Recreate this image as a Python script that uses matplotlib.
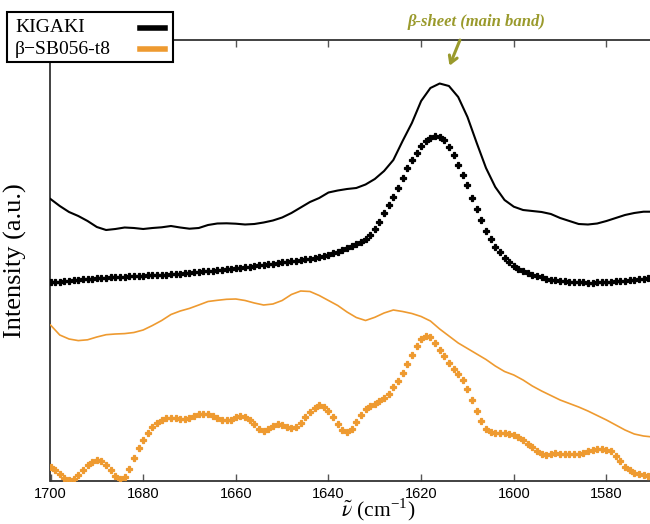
import numpy as np
import matplotlib
matplotlib.use("Agg")
import matplotlib.pyplot as plt
from matplotlib.lines import Line2D
from matplotlib.patches import Rectangle

plt.rcParams['mathtext.fontset'] = 'stix'

# ---------------- data (intensity, a.u.) ----------------
# solid lines, sampled every 2 cm-1
wn_line = [1700, 1698, 1696, 1694, 1692, 1690, 1688, 1686, 1684, 1682, 1680, 1678, 1676, 1674,
           1672, 1670, 1668, 1666, 1664, 1662, 1660, 1658, 1656, 1654, 1652, 1650, 1648, 1646,
           1644, 1642, 1640, 1638, 1636, 1634, 1632, 1630, 1628, 1626, 1624, 1622, 1620, 1618,
           1616, 1614, 1612, 1610, 1608, 1606, 1604, 1602, 1600, 1598, 1596, 1594, 1592, 1590,
           1588, 1586, 1584, 1582, 1580, 1578, 1576, 1574, 1572, 1570]

kigaki_line = [282, 275, 269, 265, 260, 254, 251, 252, 253.5, 253, 252, 253, 253.7, 255,
               253.5, 252.3, 253, 256, 257.5, 257.7, 257.3, 256.5, 257, 258.5, 260.5, 263.5, 268, 273.5,
               279, 283, 288.5, 290.5, 292, 293, 296.5, 302, 310, 321, 340, 358, 380, 393,
               397.5, 395, 384, 364, 338, 313, 294, 281, 274.3, 271, 270, 269, 267, 263,
               260, 257, 256.5, 257.5, 260, 263, 266, 268, 269.3, 269.3]

sb056_line = [156, 146, 142, 140.4, 141.2, 144, 146.3, 147, 147.4, 148.5, 151, 155.5, 160.5, 166.5,
              170, 172.6, 176, 179.5, 180.7, 181.7, 182, 180.5, 178, 176, 177, 180.5, 186.5, 190,
              189.5, 185.5, 180.5, 175.5, 169, 163.5, 160.5, 163.7, 168, 171, 169.5, 167.5, 164.5, 160,
              152, 145, 138, 132.5, 127, 121.5, 115, 109.5, 106, 101, 95, 90, 85.5, 81,
              77.5, 74, 70, 65.5, 61, 56, 51, 47, 45, 44]

# marker series, sampled every 1 cm-1 (1700 ... 1571)
wn_dots = list(range(1700, 1570, -1))

kigaki_dots = [198.5, 199, 199.3, 199.7, 200, 200.5, 201, 201.5, 202, 202.3,
               202.7, 203, 203.3, 203.5, 203.7, 204, 204.2, 204.5, 204.7, 205,
               205.2, 205.5, 205.7, 206, 206.2, 206.4, 206.6, 207, 207.4, 207.8,
               208.2, 208.7, 209.1, 209.5, 210, 210.4, 210.9, 211.4, 211.8, 212.3,
               212.8, 213.2, 213.8, 214.4, 215, 215.6, 216.1, 216.7, 217.3, 218,
               218.5, 219, 219.5, 220.2, 220.9, 221.6, 222.3, 223, 223.7, 224.5,
               226, 227.5, 229, 230.5, 232.5, 234.5, 237, 239, 242, 246,
               252, 259, 268, 276, 284, 293, 303, 313, 321, 328,
               334.5, 339.5, 343, 345, 343.5, 340.5, 334, 326, 316, 306,
               295.5, 283, 272, 261, 249.5, 241.5, 234, 228.5, 222.5, 218.5,
               214.5, 212, 209.5, 207.7, 206.2, 205, 203.5, 202.4, 201.4, 200.5,
               200, 199.5, 199.2, 199, 198.7, 198.5, 198.3, 198.3, 198.5, 198.7,
               199, 199.3, 199.6, 199.9, 200.3, 200.7, 201.1, 201.5, 202, 202.5]

sb056_dots = [14, 11, 7, 3, 1, 2.5, 6.5, 11, 16.5, 19.5,
              21, 20, 16.5, 11.5, 5, 1.7, 4, 12.5, 23.5, 33.5,
              41, 48, 54, 58, 61.5, 63, 63.3, 62.8, 62.2, 62.3,
              63.5, 64.7, 66.7, 67.3, 66.7, 65, 62.7, 61, 60.7, 61.5,
              63.7, 65.2, 64.5, 61.5, 56.8, 52.4, 50, 51.7, 54.8, 56.9,
              56.5, 54.3, 53.3, 54, 58.5, 64.5, 69.5, 73.5, 75.7, 74.5,
              70.5, 64.5, 57.5, 51.5, 49, 52, 59.5, 66.5, 72.5, 75.5,
              77.4, 79.7, 83.3, 87.5, 93.7, 100.5, 108, 117, 126, 135.5,
              142.5, 145, 144, 138.5, 131, 125, 118, 112.5, 107.5, 101,
              92, 81, 70, 60, 52.5, 49, 48.3, 48.3, 48, 47,
              46, 44.3, 41, 37.5, 34, 30, 27.2, 26.4, 27, 27.7,
              27.5, 27, 26.7, 26.8, 27.4, 28.5, 29.8, 31, 31.6, 31.7,
              31.2, 29.8, 25.5, 20.5, 14.5, 11, 8.3, 6.7, 6, 5]

series_names = ["KIGAKI", "\u03b2\u2212SB056-t8"]
x_ticks = [1700, 1680, 1660, 1640, 1620, 1600, 1580]

# ---------------- styling ----------------
BLACK = "#000000"
ORANGE = "#EE9A30"
OLIVE = "#9A9A2C"
SERIF = ["Liberation Serif", "DejaVu Serif"]
SANS = ["Liberation Sans", "DejaVu Sans"]
W, H = 650, 524

fig = plt.figure(figsize=(6.5, 5.24), dpi=100)
ax = fig.add_axes([50.5 / W, 43 / H, 599.5 / W, 441 / H])

ax.plot(wn_line, kigaki_line, color=BLACK, lw=1.5, zorder=3)
ax.plot(wn_dots, kigaki_dots, ls="none", marker="P", ms=4.6, color=BLACK, mec=BLACK,
        mew=0.9, zorder=3)
ax.plot(wn_line, sb056_line, color=ORANGE, lw=1.2, zorder=3)
ax.plot(wn_dots, sb056_dots, ls="none", marker="P", ms=5.0, color=ORANGE, mec=ORANGE,
        mew=0.9, zorder=3)

ax.set_xlim(1700, 1700 - 599.5 / 4.633)
ax.set_ylim(0, 441)
ax.set_xticks(x_ticks)
ax.set_xticklabels([str(t) for t in x_ticks], fontfamily=SANS, fontsize=10.5)
ax.set_yticks([])
ax.tick_params(axis="x", direction="in", length=5, width=1, color="#555555",
               top=True, bottom=True, pad=4)
for s in ["left", "bottom", "top"]:
    ax.spines[s].set_color("#333333")
    ax.spines[s].set_linewidth(1.3)
ax.spines["right"].set_visible(False)

ax.set_xlabel(r"$\tilde{\nu}$ (cm$^{\mathregular{-1}}$)", fontfamily=SERIF, fontsize=15.5)
ax.xaxis.set_label_coords((378 - 50.5) / 599.5, -(516 - 481) / 441, transform=ax.transAxes)
ax.xaxis.label.set_va("baseline")
ax.set_ylabel("Intensity (a.u.)", fontfamily=SERIF, fontsize=19)
ax.yaxis.set_label_coords(-(50.5 - 27) / 599.5, 0.5)

# legend (text left, line sample right), drawn in figure pixels
box = Rectangle((7 / W, 1 - 62 / H), 166 / W, 50 / H, transform=fig.transFigure,
                facecolor="white", edgecolor="black", lw=1.5, zorder=10)
fig.add_artist(box)
label_y = [28, 49]
sample_colors = [BLACK, ORANGE]
for name, yy, col in zip(series_names, label_y, sample_colors):
    fig.text(15 / W, 1 - yy / H, name, fontfamily=SERIF, fontsize=14, ha="left",
             va="center", zorder=11)
    fig.add_artist(Line2D([140 / W, 165 / W], [1 - yy / H, 1 - yy / H], color=col, lw=4,
                          transform=fig.transFigure, zorder=11))

ax.annotate("", xy=(1614.1, 412.7), xytext=(1611.4, 443.5),
            arrowprops=dict(arrowstyle="->,head_length=0.5,head_width=0.3", color=OLIVE, lw=2.2),
            annotation_clip=False)
fig.text(476 / W, 1 - 22 / H, "\u03b2-sheet (main band)", color=OLIVE, fontfamily=SERIF,
         fontstyle="italic", fontweight="bold", fontsize=12, ha="center", va="center")

fig.savefig("out.png", dpi=100)
